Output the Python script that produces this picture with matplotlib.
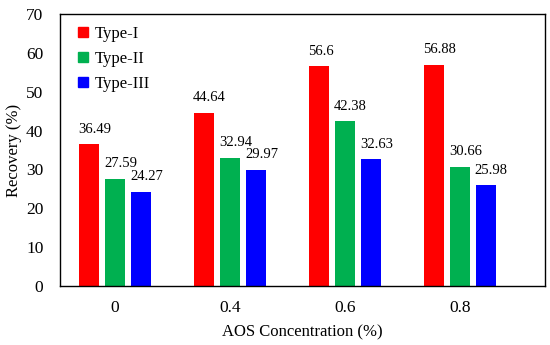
import numpy as np
import matplotlib as mpl
import matplotlib.pyplot as plt

mpl.rcParams['font.family'] = 'Liberation Serif'

# Data
concentrations = ['0', '0.4', '0.6', '0.8']
type_1 = [36.49, 44.64, 56.6, 56.88]
type_2 = [27.59, 32.94, 42.38, 30.66]
type_3 = [24.27, 29.97, 32.63, 25.98]
series_names = ['Type-I', 'Type-II', 'Type-III']
series_colors = ['#FF0000', '#00B050', '#0000FF']

fig = plt.figure(figsize=(5.5, 3.45), dpi=100)
ax = fig.add_axes([60 / 550, 1 - 286 / 345, 485 / 550, 272 / 345])

x = np.arange(len(concentrations))
width = 0.17
step = 0.225
all_series = [type_1, type_2, type_3]
for i, (values, name, color) in enumerate(zip(all_series, series_names, series_colors)):
    positions = x + (i - 1) * step
    ax.bar(positions, values, width=width, color=color, label=name)
    for pos, val in zip(positions, values):
        ax.text(pos - width / 2 - 0.01, val + 2.2, '{:g}'.format(val),
                ha='left', va='bottom', fontsize=10.5)

ax.set_xlim(-0.478, 3.74)
ax.set_ylim(0, 70)
ax.set_yticks(range(0, 71, 10))
ax.set_xticks(x)
ax.set_xticklabels(concentrations)
ax.tick_params(axis='both', length=0, labelsize=12.5)
ax.tick_params(axis='y', pad=12)
ax.tick_params(axis='x', pad=10)

for spine in ax.spines.values():
    spine.set_linewidth(1.0)
    spine.set_color('black')

ax.set_xlabel('AOS Concentration (%)', fontsize=12, labelpad=6)
ax.set_ylabel('Recovery (%)', fontsize=12, labelpad=3)

handles = [plt.Line2D([], [], marker='s', linestyle='none', markersize=7,
                      color=c) for c in series_colors]
ax.legend(handles, series_names, loc='upper left', frameon=False, fontsize=12,
          handletextpad=-0.35, labelspacing=0.55, borderaxespad=0.3,
          bbox_to_anchor=(-0.01, 1.0))

fig.savefig('out.png', dpi=100)
